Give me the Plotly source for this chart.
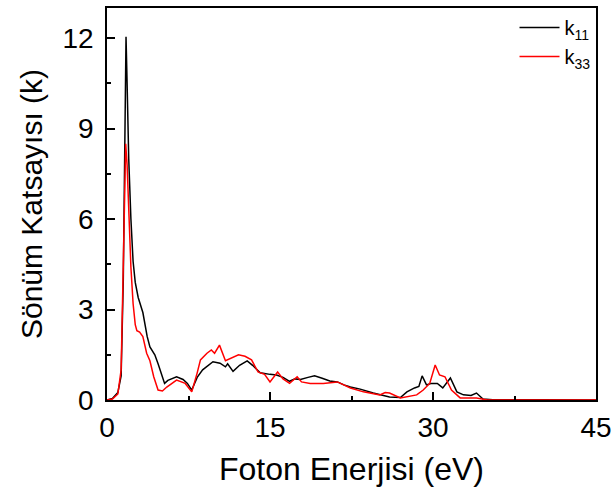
import plotly.graph_objects as go

black_x = [0, 0.5, 1.0, 1.3, 1.5, 1.65, 1.75, 1.85, 2.0, 2.2, 2.4, 2.6, 2.87, 3.3, 3.7, 3.95,
           4.4, 4.7, 5.0, 5.3, 5.6, 6.0, 6.4, 7.0, 7.4, 7.8, 8.3, 8.8, 9.3, 9.75, 10.4, 10.9,
           11.1, 11.6, 12.2, 12.9, 13.4, 14.1, 15.0, 15.6, 16.2, 16.8, 17.3, 17.8, 18.5, 19.1,
           19.8, 20.5, 21.2, 21.8, 22.4, 23.3, 24.5, 26.0, 27.0, 27.6, 28.3, 28.7, 29.0, 29.4,
           29.8, 30.4, 30.9, 31.6, 32.2, 32.8, 33.5, 34.0, 34.6, 35.5, 40, 45]
black_y = [0, 0.05, 0.25, 0.8, 4.0, 9.0, 12.05, 10.5, 8.0, 6.0, 4.6, 3.9, 3.4, 2.9, 2.1, 1.76,
           1.5, 1.2, 0.85, 0.55, 0.65, 0.7, 0.77, 0.68, 0.55, 0.33, 0.75, 1.0, 1.15, 1.27, 1.22, 1.1,
           1.2, 0.95, 1.15, 1.3, 1.15, 0.9, 0.85, 0.83, 0.75, 0.62, 0.7, 0.68, 0.75, 0.8,
           0.72, 0.63, 0.6, 0.5, 0.43, 0.36, 0.23, 0.1, 0.08, 0.27, 0.4, 0.45, 0.8, 0.5,
           0.55, 0.55, 0.4, 0.73, 0.27, 0.17, 0.15, 0.23, 0.03, 0.01, 0.01, 0]

red_x = [0, 0.5, 1.0, 1.3, 1.5, 1.65, 1.72, 1.85, 2.0, 2.2, 2.4, 2.6, 2.75, 3.0, 3.3, 3.65,
         3.95, 4.3, 4.7, 5.1, 5.5, 6.0, 6.4, 7.2, 7.8, 8.3, 8.6, 9.2, 9.6, 9.9, 10.35, 10.9,
         11.5, 12.1, 12.7, 13.3, 13.9, 14.5, 15.0, 15.7, 16.2, 16.8, 17.5, 17.9, 18.7, 19.9,
         21.2, 22.4, 23.6, 25.1, 25.6, 26.0, 27.0, 28.5, 29.1, 29.7, 30.2, 30.6, 31.1, 31.7,
         32.5, 34.0, 35.0, 45]
red_y = [0, 0.03, 0.2, 1.0, 4.5, 8.0, 8.5, 7.8, 6.0, 4.4, 3.2, 2.5, 2.3, 2.25, 2.1, 1.55,
         1.3, 0.77, 0.33, 0.3, 0.43, 0.55, 0.66, 0.55, 0.27, 0.9, 1.33, 1.55, 1.66, 1.55, 1.82, 1.3,
         1.4, 1.5, 1.45, 1.33, 0.93, 0.85, 0.6, 0.93, 0.7, 0.55, 0.77, 0.6, 0.55, 0.55,
         0.6, 0.4, 0.27, 0.17, 0.25, 0.23, 0.07, 0.17, 0.33, 0.55, 1.16, 0.83, 0.77, 0.33,
         0.07, 0.07, 0.0, 0]

x_ticks = [0, 15, 30, 45]
y_ticks = [0, 3, 6, 9, 12]

FONT = "Liberation Sans, Arial, sans-serif"

fig = go.Figure()
fig.add_trace(go.Scatter(x=black_x, y=black_y, mode="lines", name="k<sub>11</sub>",
                         line=dict(color="black", width=1.5)))
fig.add_trace(go.Scatter(x=red_x, y=red_y, mode="lines", name="k<sub>33</sub>",
                         line=dict(color="red", width=1.5)))

axis_common = dict(showline=True, linecolor="black", linewidth=1.5, mirror=True,
                   ticks="inside", ticklen=8, tickwidth=1.5, tickcolor="black",
                   showgrid=False, zeroline=False,
                   tickfont=dict(family=FONT, size=28, color="black"))

fig.update_xaxes(range=[0, 45], tickvals=x_ticks, ticktext=[str(v) for v in x_ticks],
                 ticklabelstandoff=2, automargin=False,
                 title=dict(text="Foton Enerjisi (eV)", font=dict(family=FONT, size=32, color="black")),
                 minor=dict(ticks="inside", ticklen=4, tickwidth=1.5, tickcolor="black", dtick=7.5, tick0=0),
                 **axis_common)
fig.update_yaxes(range=[0, 13], tickvals=y_ticks, ticktext=[str(v) for v in y_ticks],
                 ticklabelstandoff=6,
                 title=dict(text="Sönüm Katsayısı (k)", font=dict(family=FONT, size=30, color="black"), standoff=11),
                 minor=dict(ticks="inside", ticklen=4, tickwidth=1.5, tickcolor="black", dtick=1.5, tick0=0),
                 **axis_common)

fig.update_layout(
    width=613, height=497,
    margin=dict(l=107, r=17, t=8, b=97),
    plot_bgcolor="white", paper_bgcolor="white",
    font=dict(family=FONT, color="black"),
    legend=dict(x=0.999, y=1.0, xanchor="right", yanchor="top",
                bgcolor="rgba(0,0,0,0)", font=dict(family=FONT, size=20, color="black"),
                tracegroupgap=0, itemwidth=40),
    showlegend=True,
)

fig.write_html("out.html")
